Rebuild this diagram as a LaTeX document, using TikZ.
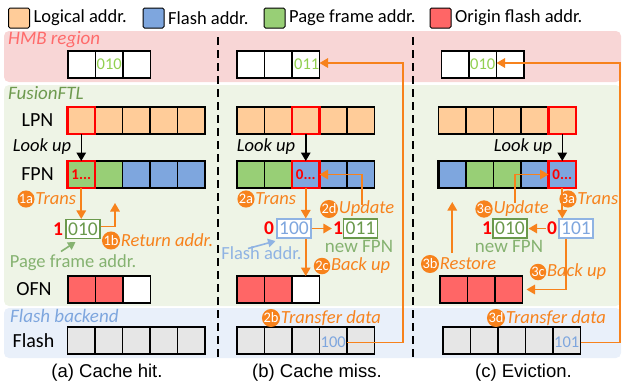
\documentclass[tikz,border=0pt]{standalone}
\usepackage{fontspec}
\setmainfont{Carlito}
\newfontfamily\capfont{Liberation Sans}
\usetikzlibrary{arrows.meta}
\definecolor{peach}{HTML}{FFCC99}
\definecolor{fblue}{HTML}{7EA6DE}
\definecolor{pgreen}{HTML}{98CF76}
\definecolor{ored}{HTML}{FF6666}
\definecolor{fgrey}{HTML}{E6E6E6}
\definecolor{hmbbg}{HTML}{F8D6D6}
\definecolor{ftlbg}{HTML}{EEF4E6}
\definecolor{fbbg}{HTML}{E9F0FA}
\definecolor{orangec}{HTML}{F7821C}
\definecolor{hmbl}{HTML}{FF6B6B}
\definecolor{ftll}{HTML}{6E9A4F}
\definecolor{hgreen}{HTML}{92D050}
\definecolor{dgreen}{HTML}{6A994C}
\definecolor{lgreen}{HTML}{85B270}
\definecolor{lblue}{HTML}{8FB3E3}
\definecolor{hlred}{HTML}{FF0000}
\tikzset{
  cell/.style={draw=black, line width=1.1pt, minimum width=27.5pt, minimum height=27pt, inner sep=0pt, outer sep=0pt},
  hl/.style={draw=hlred, line width=2.6pt},
  legbox/.style={draw=black, line width=1pt, rounded corners=1.5pt, minimum width=21pt, minimum height=20pt, inner sep=0pt},
  legtxt/.style={anchor=west, inner sep=0pt, font=\fontsize{18.5}{20}\selectfont},
  reglab/.style={anchor=west, inner sep=0pt, font=\fontsize{19}{20}\selectfont\itshape},
  rowlab/.style={inner sep=0pt, font=\fontsize{20}{22}\selectfont},
  lookup/.style={inner sep=0pt, font=\fontsize{18.5}{20}\selectfont\itshape},
  ctxt/.style={inner sep=0pt, font=\fontsize{15}{16}\selectfont\bfseries, text=hlred},
  htxt/.style={inner sep=0pt, font=\fontsize{16.5}{16}\selectfont, text=hgreen},
  fltxt/.style={inner sep=0pt, font=\fontsize{16.5}{16}\selectfont, text=fblue},
  ibox/.style={draw, line width=1.1pt, fill=white, minimum width=34pt, minimum height=19pt, inner sep=0pt, font=\fontsize{19.5}{19}\selectfont},
  gbox/.style={ibox, draw=dgreen, text=dgreen},
  bbox/.style={ibox, draw=lblue, text=fblue},
  rbit/.style={inner sep=0pt, font=\fontsize{19.5}{19}\selectfont\bfseries, text=hlred},
  stepc/.style={circle, fill=orangec, text=white, inner sep=0pt, minimum size=16.5pt, font=\fontsize{14.5}{14}\selectfont},
  steptxt/.style={anchor=west, inner sep=0pt, text=orangec, font=\fontsize{18.5}{20}\selectfont\itshape},
  oarr/.style={draw=orangec, line width=1.6pt, -{Triangle[length=8.5pt,width=9.5pt]}},
  barr/.style={draw=black, line width=1.5pt, -{Triangle[length=8.5pt,width=9.5pt]}},
  garr/.style={draw=lgreen, line width=1.6pt, -{Triangle[length=7.5pt,width=8.5pt]}},
  blarr/.style={draw=lblue, line width=1.6pt, -{Triangle[length=7.5pt,width=8.5pt]}},
  sepline/.style={draw=black, line width=2.6pt, dash pattern=on 8pt off 5pt},
  captxt/.style={inner sep=0pt, font=\capfont\fontsize{18.5}{20}\selectfont},
}
\begin{document}
\begin{tikzpicture}[x=1pt,y=-1pt]
\useasboundingbox (0,0) rectangle (623,386);
% region backgrounds
\fill[hmbbg, rounded corners=5pt] (4,31) rectangle (621,82);
\fill[ftlbg, rounded corners=5pt] (4,85) rectangle (621,306);
\fill[fbbg, rounded corners=5pt] (4,308) rectangle (621,358);
% separators
\draw[sepline] (218,37) -- (218,360);
\draw[sepline] (413,37) -- (413,360);
% legend
\node[legbox, fill=peach] (lg1) at (19,18) {};
\node[legtxt] (lt1) at (33.5,18) {Logical addr.};
\node[legbox, fill=fblue] (lg2) at (153.5,18) {};
\node[legtxt] (lt2) at (168,18) {Flash addr.};
\node[legbox, fill=pgreen] (lg3) at (274.5,18) {};
\node[legtxt] (lt3) at (289,18) {Page frame addr.};
\node[legbox, fill=ored] (lg4) at (440.5,18) {};
\node[legtxt] (lt4) at (455,18) {Origin flash addr.};
% region labels
\node[reglab, text=hmbl] (hmblab) at (8,40) {HMB region};
\node[reglab, text=ftll] (ftllab) at (8,93.5) {FusionFTL};
\node[reglab, text=fblue] (fblab) at (10,315.5) {Flash backend};
% row labels
\node[rowlab] (lpnlab) at (37.5,120.5) {LPN};
\node[rowlab] (fpnlab) at (37.5,174.5) {FPN};
\node[rowlab] (ofnlab) at (34,289.5) {OFN};
\node[rowlab] (flalab) at (33.5,340.5) {Flash};
% ---------------- panel a ----------------
\foreach \f [count=\i] in {white,white,white}
  \node[cell, fill=\f] (aH\i) at ({68+27.5*(\i-0.5)},64.5) {};
\foreach \f [count=\i] in {peach,peach,peach,peach,peach}
  \node[cell, fill=\f] (aL\i) at ({67.5+27.5*(\i-0.5)},120.5) {};
\foreach \f [count=\i] in {pgreen,pgreen,fblue,fblue,fblue}
  \node[cell, fill=\f] (aF\i) at ({67.5+27.5*(\i-0.5)},174.5) {};
\foreach \f [count=\i] in {ored,ored,white}
  \node[cell, fill=\f] (aO\i) at ({68+27.5*(\i-0.5)},289.5) {};
\foreach \f [count=\i] in {fgrey,fgrey,fgrey,fgrey,fgrey}
  \node[cell, fill=\f] (aB\i) at ({67.5+27.5*(\i-0.5)},340.5) {};
\draw[hl] (aL1.north west) rectangle (aL1.south east);
\draw[hl] (aF1.north west) rectangle (aF1.south east);
\node[htxt] (aH2t) at (aH2) {010};
\node[ctxt] (aF1t) at (aF1) {1...};
\node[lookup] (lka) at (42,147) {Look up};
\draw[barr] (aL1.south) -- (aF1.north);
\node[gbox] (b010a) at (83,229) {010};
\node[rbit] (onea) at (58,229) {1};
\node[stepc] (s1a) at (26,199) {1a};
\node[steptxt] (t1a) at ([xshift=0.5pt]s1a.east) {Trans};
\node[stepc] (s1b) at (111,240.5) {1b};
\node[steptxt] (t1b) at ([xshift=0.5pt]s1b.east) {Return addr.};
\draw[oarr] (aF1.south) -- (aF1.south |- b010a.north);
\coordinate (reta) at (115,203);
\draw[oarr] ([yshift=2.5pt]b010a.east) -| (reta);
\node[inner sep=0pt, text=lgreen, font=\fontsize{18.5}{20}\selectfont] (pfa) at (73,262.5) {Page frame addr.};
\coordinate (pfs) at (61,251.5);
\coordinate (pfe) at (75.5,242);
\draw[garr] (pfs) -- (pfe);
% ---------------- panel b ----------------
\foreach \f [count=\i] in {white,white,white}
  \node[cell, fill=\f] (bH\i) at ({237+27.5*(\i-0.5)},64.5) {};
\foreach \f [count=\i] in {peach,peach,peach,peach,peach}
  \node[cell, fill=\f] (bL\i) at ({237+27.5*(\i-0.5)},120.5) {};
\foreach \f [count=\i] in {pgreen,pgreen,fblue,fblue,fblue}
  \node[cell, fill=\f] (bF\i) at ({237+27.5*(\i-0.5)},174.5) {};
\foreach \f [count=\i] in {ored,ored,white}
  \node[cell, fill=\f] (bO\i) at ({237+27.5*(\i-0.5)},289.5) {};
\foreach \f [count=\i] in {fgrey,fgrey,fgrey,fgrey,fgrey}
  \node[cell, fill=\f] (bB\i) at ({237+27.5*(\i-0.5)},340.5) {};
\draw[hl] (bL3.north west) rectangle (bL3.south east);
\draw[hl] (bF3.north west) rectangle (bF3.south east);
\node[htxt] (bH3t) at ([xshift=1pt]bH3) {011};
\node[ctxt] (bF3t) at (bF3) {0...};
\node[fltxt] (bB4t) at ([yshift=-2pt]bB4) {100};
\node[lookup] (lkb) at (266,147) {Look up};
\draw[barr] (bL3.south) -- (bF3.north);
\node[bbox] (b100b) at (294,228.5) {100};
\node[rbit] (zerob) at (269,228.5) {0};
\node[rbit] (oneb) at (338,228.5) {1};
\node[gbox] (b011b) at (360.5,228.5) {011};
\node[inner sep=0pt, text=lgreen, font=\fontsize{19}{20}\selectfont] (nfb) at (359,246.5) {new FPN};
\node[inner sep=0pt, text=lblue, font=\fontsize{18.5}{20}\selectfont] (fab) at (261.5,253.5) {Flash addr.};
\coordinate (fas) at (248,248.5);
\coordinate (fae) at (275.5,241);
\draw[blarr] (fas) -- (fae);
\node[stepc] (s2a) at (246,199) {2a};
\node[steptxt] (t2a) at ([xshift=0.5pt]s2a.east) {Trans};
\node[stepc] (s2d) at (329,209) {2d};
\node[steptxt] (t2d) at ([xshift=0.5pt]s2d.east) {Update};
\node[stepc] (s2c) at (322,266) {2c};
\node[steptxt] (t2c) at ([xshift=0.5pt]s2c.east) {Back up};
\node[stepc] (s2b) at (271,318) {2b};
\node[steptxt] (t2b) at ([xshift=0.5pt]s2b.east) {Transfer data};
\draw[oarr] (bF3.south) -- (bF3.south |- b100b.north);
\draw[oarr, shorten >=1pt] (b100b.east) -- (oneb.west);
\draw[oarr] (bO3.north |- b100b.south) -- (bO3.north);
\coordinate (upb) at (362,205);
\draw[oarr] (upb) |- (bF3.east);
\draw[oarr] ([yshift=-2pt]bB4.east) -- ++(56,0) |- ([yshift=1.5pt]bH3.east);
% ---------------- panel c ----------------
\foreach \f [count=\i] in {white,white,white}
  \node[cell, fill=\f] (cH\i) at ({441.5+27.5*(\i-0.5)},64.5) {};
\foreach \f [count=\i] in {peach,peach,peach,peach,peach}
  \node[cell, fill=\f] (cL\i) at ({438.5+27.5*(\i-0.5)},120.5) {};
\foreach \f [count=\i] in {fblue,pgreen,pgreen,fblue,fblue}
  \node[cell, fill=\f] (cF\i) at ({438.5+27.5*(\i-0.5)},174.5) {};
\foreach \f [count=\i] in {ored,ored,ored}
  \node[cell, fill=\f] (cO\i) at ({440+27.5*(\i-0.5)},289.5) {};
\foreach \f [count=\i] in {fgrey,fgrey,fgrey,fgrey,fgrey}
  \node[cell, fill=\f] (cB\i) at ({443+27.5*(\i-0.5)},340.5) {};
\draw[hl] (cL5.north west) rectangle (cL5.south east);
\draw[hl] (cF5.north west) rectangle (cF5.south east);
\draw[draw=black, line width=2.6pt] (cF1.north west) rectangle (cF1.south east);
\node[htxt] (cH2t) at (cH2) {010};
\node[ctxt] (cF5t) at (cF5) {0...};
\node[fltxt] (cB5t) at ([yshift=-2pt]cB5) {101};
\node[lookup] (lkc) at (523,147) {Look up};
\draw[barr] (cL5.south) -- (cF5.north);
\node[bbox] (b101c) at (576,228.5) {101};
\node[rbit] (zeroc) at (552,228.5) {0};
\node[rbit] (onec) at (487,228.5) {1};
\node[gbox] (b010c) at (510,228.5) {010};
\node[inner sep=0pt, text=lgreen, font=\fontsize{19}{20}\selectfont] (nfc) at (509,246.5) {new FPN};
\node[stepc] (s3a) at (568,199) {3a};
\node[steptxt] (t3a) at ([xshift=0.5pt]s3a.east) {Trans};
\node[stepc] (s3e) at (484,209) {3e};
\node[steptxt] (t3e) at ([xshift=0.5pt]s3e.east) {Update};
\node[stepc] (s3b) at (430,264) {3b};
\node[steptxt] (t3b) at ([xshift=0.5pt]s3b.east) {Restore};
\node[stepc] (s3c) at (538,272) {3c};
\node[steptxt] (t3c) at ([xshift=0.5pt]s3c.east) {Back up};
\node[stepc] (s3d) at (496,318) {3d};
\node[steptxt] (t3d) at ([xshift=0.5pt]s3d.east) {Transfer data};
\draw[oarr] (cF5.south) -- (cF5.south |- b101c.north);
\draw[oarr, shorten <=1pt, shorten >=1pt] (zeroc.west) -- (b010c.east);
\coordinate (upc) at (515,203);
\draw[oarr] (upc) |- (cF5.west);
\draw[oarr, shorten >=4pt] ([xshift=-10pt]b101c.south) |- (cO3.east);
\coordinate (rsc) at (452.25,253);
\draw[oarr, shorten >=14pt] (rsc) -- (cF1.south);
\draw[oarr] ([yshift=-2pt]cB5.east) -- ++(39.5,0) |- ([yshift=1.5pt]cH2.east);
% captions
\node[captxt] (capa) at (107,372.5) {(a) Cache hit.};
\node[captxt] (capb) at (317,373) {(b) Cache miss.};
\node[captxt] (capc) at (523.5,373) {(c) Eviction.};
\end{tikzpicture}
\end{document}
